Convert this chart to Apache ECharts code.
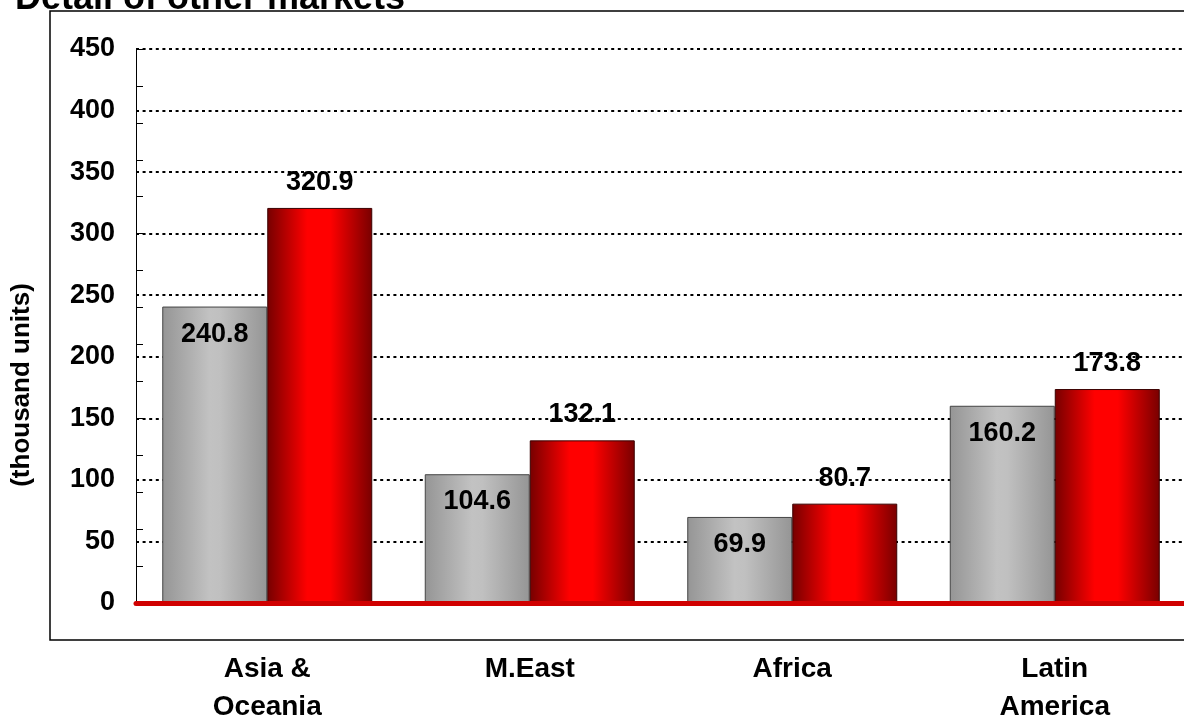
<!DOCTYPE html>
<html>
<head>
<meta charset="utf-8">
<script src="https://cdn.jsdelivr.net/npm/echarts@6/dist/echarts.min.js"></script>
<style>
  html, body { margin: 0; padding: 0; background: #fff; }
  #chart { width: 1184px; height: 720px; }
</style>
</head>
<body>
<div id="chart"></div>
<script>
// Regions and unit sales (thousand units)
const categories = ['Asia &\nOceania', 'M.East', 'Africa', 'Latin\nAmerica'];
const priorValues = [240.8, 104.6, 69.9, 160.2];
const currentValues = [320.9, 132.1, 80.7, 173.8];
const yTicks = [0, 50, 100, 150, 200, 250, 300, 350, 400, 450];

const FONT = '"Liberation Sans", Arial, Helvetica, sans-serif';

const grayFill = new echarts.graphic.LinearGradient(0, 0, 1, 0, [
  { offset: 0, color: '#959595' },
  { offset: 0.45, color: '#c2c2c2' },
  { offset: 0.55, color: '#c0c0c0' },
  { offset: 1, color: '#959595' }
]);
const redFill = new echarts.graphic.LinearGradient(0, 0, 1, 0, [
  { offset: 0, color: '#760000' },
  { offset: 0.38, color: '#ff0000' },
  { offset: 0.6, color: '#ff0000' },
  { offset: 1, color: '#780000' }
]);

const chart = echarts.init(document.getElementById('chart'), null, { renderer: 'canvas' });

chart.setOption({
  animation: false,
  backgroundColor: '#fff',
  grid: {
    left: 136, right: -2, top: 49, bottom: 117,
    containLabel: false, outerBoundsMode: 'none'
  },
  graphic: [
    {
      type: 'rect',
      shape: { x: 50, y: 11, width: 1160, height: 629 },
      style: { fill: 'none', stroke: '#000', lineWidth: 1.5 },
      z: -1
    },
    {
      type: 'text',
      x: 15,
      y: 17,
      style: {
        text: 'Detail of other markets', font: 'bold 36px ' + FONT, fill: '#000',
        verticalAlign: 'bottom'
      }
    },
    {
      type: 'text',
      x: 22,
      y: 385,
      rotation: Math.PI / 2,
      style: {
        text: '(thousand units)', font: 'bold 26px ' + FONT, fill: '#000',
        align: 'center', verticalAlign: 'middle'
      }
    }
  ],
  xAxis: {
    type: 'category',
    data: categories,
    axisLine: { show: true, lineStyle: { color: '#d00000', width: 5 } },
    axisTick: { show: false },
    axisLabel: {
      color: '#000', fontFamily: FONT, fontWeight: 'bold', fontSize: 28,
      lineHeight: 38, margin: 47, verticalAlign: 'top', interval: 0
    },
    z: 5
  },
  yAxis: [
    {
      type: 'value',
      min: 0, max: 450, interval: 50,
      axisLine: { show: true, lineStyle: { color: '#000', width: 1 } },
      axisTick: { show: false },
      axisLabel: {
        color: '#000', fontFamily: FONT, fontWeight: 'bold', fontSize: 27, margin: 21,
        customValues: yTicks
      },
      splitLine: { show: true, lineStyle: { color: '#000', width: 2, type: [3, 3.6] } }
    },
    {
      type: 'value',
      min: 0, max: 450, interval: 30,
      position: 'left',
      axisLine: { show: false },
      axisTick: { show: true, inside: true, length: 7, lineStyle: { color: '#000', width: 1 } },
      axisLabel: { show: false },
      splitLine: { show: false }
    }
  ],
  series: [
    {
      name: 'prior',
      type: 'bar',
      data: priorValues,
      barWidth: 105,
      barGap: '0%',
      itemStyle: { color: grayFill, borderColor: '#444', borderWidth: 1 },
      label: {
        show: true, position: 'insideTop', distance: 14,
        color: '#000', fontFamily: FONT, fontWeight: 'bold', fontSize: 27,
        formatter: p => p.value.toFixed(1)
      }
    },
    {
      name: 'current',
      type: 'bar',
      data: currentValues,
      barWidth: 105,
      barGap: '0%',
      itemStyle: { color: redFill, borderColor: '#3a0000', borderWidth: 1 },
      label: {
        show: true, position: 'top', distance: 12,
        color: '#000', fontFamily: FONT, fontWeight: 'bold', fontSize: 27,
        formatter: p => p.value.toFixed(1)
      }
    }
  ]
});
</script>
</body>
</html>
